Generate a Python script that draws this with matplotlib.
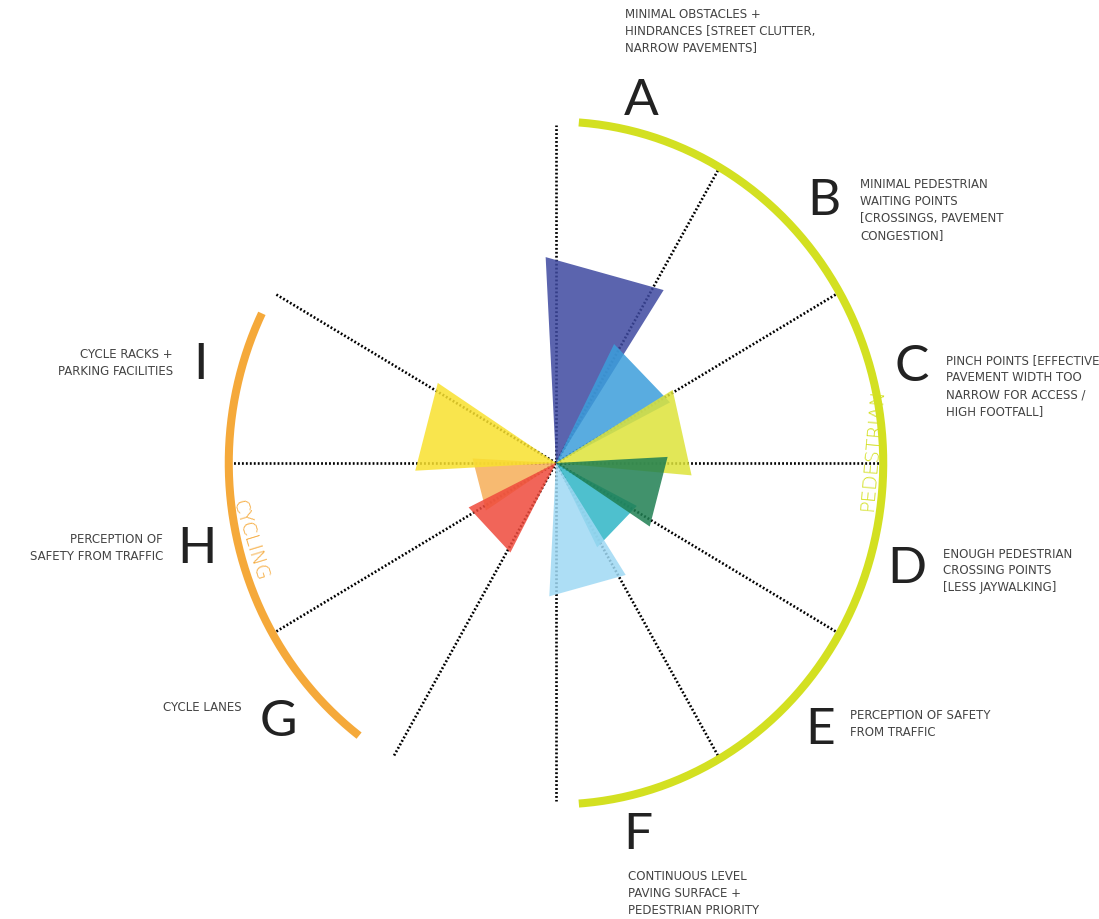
import numpy as np
import matplotlib.pyplot as plt

plt.rcParams["font.family"] = ["Lato", "DejaVu Sans"]

# ------------------------------------------------------------
# data
# ------------------------------------------------------------
categories = ["A", "B", "C", "D", "E", "F", "G", "H", "I"]
# sector middle, degrees clockwise from north
sector_angles = [15, 45, 77, 105, 135, 165, 226, 255, 285]
scores = [6.1, 3.95, 4.2, 3.45, 2.8, 3.95, 3.0, 2.58, 4.35]
wedge_colors = ["#3e49a0", "#3c9edb", "#dde33a", "#1f7f52", "#2fb5c6",
                "#9fd9f4", "#ef4a3c", "#f6ae58", "#f9e12e"]
descriptions = [
    "MINIMAL OBSTACLES +\nHINDRANCES [STREET CLUTTER,\nNARROW PAVEMENTS]",
    "MINIMAL PEDESTRIAN\nWAITING POINTS\n[CROSSINGS, PAVEMENT\nCONGESTION]",
    "PINCH POINTS [EFFECTIVE\nPAVEMENT WIDTH TOO\nNARROW FOR ACCESS /\nHIGH FOOTFALL]",
    "ENOUGH PEDESTRIAN\nCROSSING POINTS\n[LESS JAYWALKING]",
    "PERCEPTION OF SAFETY\nFROM TRAFFIC",
    "CONTINUOUS LEVEL\nPAVING SURFACE +\nPEDESTRIAN PRIORITY",
    "CYCLE LANES",
    "PERCEPTION OF\nSAFETY FROM TRAFFIC",
    "CYCLE RACKS +\nPARKING FACILITIES",
]
spoke_angles = [0, 30, 60, 90, 120, 150, 180, 210, 240, 270, 300]
groups = ["PEDESTRIAN", "CYCLING"]
group_spans = [(4, 176), (217, 296)]
group_colors = ["#d3e021", "#f5a93a"]

WEDGE_WIDTH = 36
SPOKE_LEN = 10
ARC_R = 10.1

# ------------------------------------------------------------
# layout
# ------------------------------------------------------------
W, H = 1099, 920
fig = plt.figure(figsize=(W / 100, H / 100), dpi=100)
fig.patch.set_facecolor("white")
ax = fig.add_axes([0, 0, 1, 1])
# image is slightly taller than wide per unit: 32.4 px/unit in x, 33.8 in y
cx, cy = 556, 464
ax.set_xlim(-cx / 32.4, (W - cx) / 32.4)
ax.set_ylim(-(H - cy) / 33.8, cy / 33.8)
ax.axis("off")


def polar(r, deg):
    t = np.radians(deg)
    return r * np.sin(t), r * np.cos(t)


# spokes
for a in spoke_angles:
    x, y = polar(SPOKE_LEN, a)
    ax.plot([0, x], [0, y], color="black", lw=1.9,
            linestyle=(0, (0.7, 0.8)), zorder=1)

# wedges
order = [0, 1, 2, 4, 3, 5, 7, 6, 8]
for i in order:
    a, r = sector_angles[i], scores[i]
    x1, y1 = polar(r, a - WEDGE_WIDTH / 2)
    x2, y2 = polar(r, a + WEDGE_WIDTH / 2)
    ax.fill([0, x1, x2], [0, y1, y2], color=wedge_colors[i],
            alpha=0.85, lw=0, zorder=2)

# group arcs
for name, (a0, a1), col in zip(groups, group_spans, group_colors):
    th = np.linspace(a0, a1, 200)
    x, y = polar(ARC_R, th)
    ax.plot(x, y, color=col, lw=5.8, solid_capstyle="butt", zorder=3)

ax.text(*polar(9.78, 87.5), groups[0], color=group_colors[0], fontsize=14,
        rotation=85, ha="center", va="center", family="DejaVu Sans",
        fontweight="light", zorder=4)
ax.text(*polar(9.72, 256.5), groups[1], color=group_colors[1], fontsize=14,
        rotation=-73, ha="center", va="center", family="DejaVu Sans",
        fontweight="light", zorder=4)

# letters and descriptions (pixel positions)
letter_pos = [(641, 101), (824, 201), (912, 367), (907, 569), (820, 730),
              (638, 835), (278, 722), (197, 549), (201, 365)]
desc_pos = [(625, 31, "left"), (860, 210, "left"), (946, 386, "left"),
            (943, 571, "left"), (850, 724, "left"), (628, 894, "left"),
            (242, 708, "right"), (163, 548, "right"), (173, 363, "right")]

for cat, (lx, ly), (dx, dy, ha), txt in zip(categories, letter_pos, desc_pos, descriptions):
    fig.text(lx / W, 1 - ly / H, cat, fontsize=37, fontweight="normal",
             color="#222222", ha="center", va="center")
    fig.text(dx / W, 1 - dy / H, txt, fontsize=8.5, color="#444444",
             family="DejaVu Sans", ha=ha, va="center", linespacing=1.4,
             multialignment=ha)

fig.savefig("out.png", dpi=100, facecolor="white")
